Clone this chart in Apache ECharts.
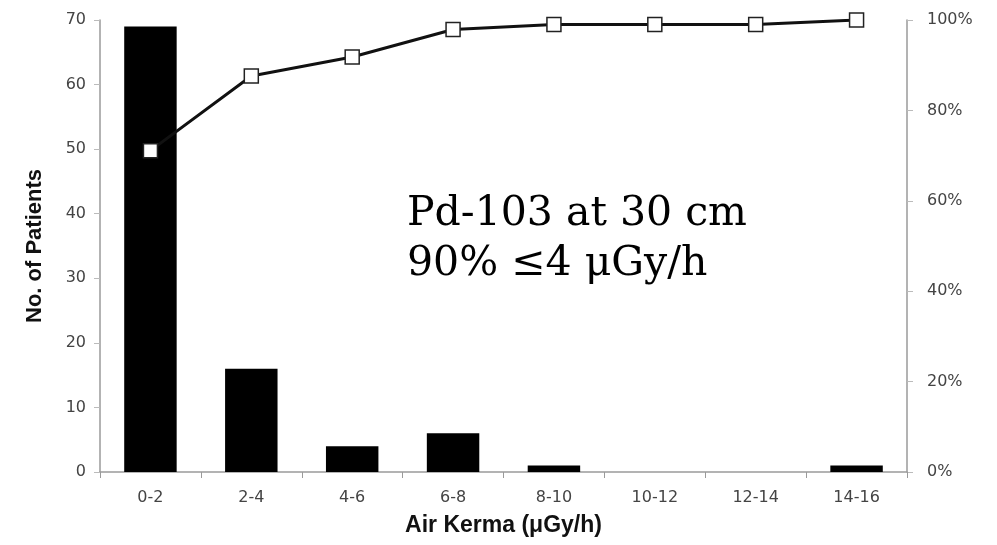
<!DOCTYPE html>
<html>
<head>
<meta charset="utf-8">
<script src="https://cdn.jsdelivr.net/npm/echarts@6/dist/echarts.min.js"></script>
<style>
  html, body { margin: 0; padding: 0; background: #fff; }
  #main { width: 997px; height: 545px; }
</style>
</head>
<body>
<div id="main"></div>
<script>
// data
var categories = ['0-2', '2-4', '4-6', '6-8', '8-10', '10-12', '12-14', '14-16'];
var patients = [69, 16, 4, 6, 1, 0, 0, 1];
var cumulativePct = [71.1, 87.6, 91.8, 97.9, 99.0, 99.0, 99.0, 100];
var leftTicks = [0, 10, 20, 30, 40, 50, 60, 70];
var rightTicks = [0, 20, 40, 60, 80, 100];

var chart = echarts.init(document.getElementById('main'));
var tickFont = 'DejaVu Sans, Verdana, sans-serif';
var nameFont = 'Liberation Sans Narrow, Liberation Sans, sans-serif';

var option = {
    animation: false,
    grid: { left: 100, right: 90, top: 20, bottom: 73 },
    xAxis: {
        type: 'category',
        data: categories,
        axisLine: { lineStyle: { color: '#9a9a9a', width: 1.5 } },
        axisTick: { show: true, length: 6, interval: 0, lineStyle: { color: '#9a9a9a' } },
        axisLabel: { color: '#444', fontSize: 16, fontFamily: tickFont, margin: 18 },
        name: 'Air Kerma (\u03bcGy/h)',
        nameLocation: 'middle',
        nameGap: 42,
        nameTextStyle: { color: '#111', fontSize: 23, fontWeight: 'bold', fontFamily: nameFont }
    },
    yAxis: [
        {
            type: 'value',
            min: leftTicks[0],
            max: leftTicks[leftTicks.length - 1],
            interval: 10,
            axisLine: { show: true, lineStyle: { color: '#9a9a9a', width: 1.5 } },
            axisTick: { show: true, length: 6, lineStyle: { color: '#bbb' } },
            splitLine: { show: false },
            axisLabel: { color: '#444', fontSize: 16, fontFamily: tickFont, margin: 14 },
            name: 'No. of Patients',
            nameLocation: 'middle',
            nameGap: 54,
            nameRotate: 90,
            nameTextStyle: { color: '#111', fontSize: 22, fontWeight: 'bold', fontFamily: nameFont }
        },
        {
            type: 'value',
            min: rightTicks[0],
            max: rightTicks[rightTicks.length - 1],
            interval: 20,
            position: 'right',
            axisLine: { show: true, lineStyle: { color: '#9a9a9a', width: 1.5 } },
            axisTick: { show: true, length: 6, lineStyle: { color: '#bbb' } },
            splitLine: { show: false },
            axisLabel: { color: '#444', fontSize: 16, fontFamily: tickFont, margin: 20, formatter: '{value}%' }
        }
    ],
    series: [
        {
            name: 'Patients',
            type: 'bar',
            data: patients,
            barWidth: '52%',
            itemStyle: { color: '#000' },
            yAxisIndex: 0
        },
        {
            name: 'Cumulative',
            type: 'line',
            data: cumulativePct,
            yAxisIndex: 1,
            symbol: 'rect',
            symbolSize: 14,
            lineStyle: { color: '#111', width: 3 },
            itemStyle: { color: '#fff', borderColor: '#222', borderWidth: 1.5 },
            z: 5
        }
    ],
    graphic: [
        {
            type: 'text',
            left: 407,
            top: 189,
            style: {
                text: 'Pd-103 at 30 cm\n90% \u22644 \u03bcGy/h',
                font: '41px "DejaVu Serif", "Liberation Serif", serif',
                fill: '#000',
                lineHeight: 50
            }
        }
    ]
};

chart.setOption(option);
</script>
</body>
</html>
